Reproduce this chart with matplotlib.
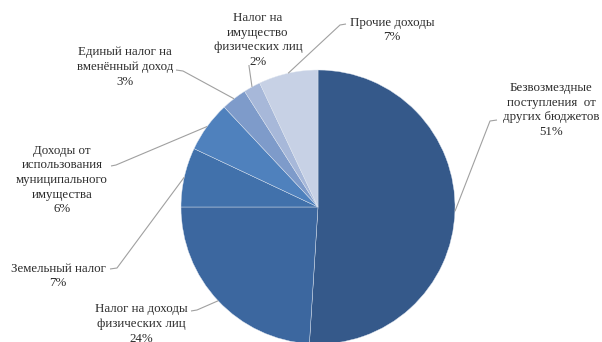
import numpy as np
import matplotlib
matplotlib.use('Agg')
import matplotlib.pyplot as plt

# ── data ──────────────────────────────────────────────────────────────────────

labels = [
    'Безвозмездные\nпоступления  от\nдругих бюджетов',
    'Налог на доходы\nфизических лиц',
    'Земельный налог',
    'Доходы от\nиспользования\nмуниципального\nимущества',
    'Единый налог на\nвменённый доход',
    'Налог на\nимущество\nфизических лиц',
    'Прочие доходы',
]
shares = [51, 24, 7, 6, 3, 2, 7]
colors = ['#35598a', '#3c679f', '#4171ab', '#4f81bd', '#7e9bca', '#a7b8d9', '#c7d1e5']

# label layout in pixel coords (y down): text centre, leader start, leader knee
text_pos = [(551, 110), (141, 324), (58, 276), (62, 180), (125, 67), (258, 40), (392, 30)]
lead_pts = [((497, 120), (490, 121)),
            ((191, 311), (197, 310)),
            ((110, 269), (117, 268)),
            ((111, 166), (116, 165)),
            ((176, 70), (183, 71)),
            ((249, 65), (249, 66)),
            ((346, 24), (340, 25))]

W, H = 602, 342
C_TEXT = '#2b2b2b'
C_LEAD = '#a0a0a0'


def py(y):
    return H - y


fig = plt.figure(figsize=(W / 100, H / 100), dpi=100)
ax = fig.add_axes([0, 0, 1, 1])

cx, cy, r = 318, py(207), 137
wedges, _ = ax.pie(shares, colors=colors, startangle=90, counterclock=False,
                   center=(cx, cy), radius=r,
                   wedgeprops=dict(edgecolor='#dfe6f0', linewidth=0.3))

for w, lab, val, (tx, ty), (p0, p1) in zip(wedges, labels, shares, text_pos, lead_pts):
    ang = np.deg2rad((w.theta1 + w.theta2) / 2)
    ex, ey = cx + r * np.cos(ang), cy + r * np.sin(ang)
    ax.plot([p0[0], p1[0], ex], [py(p0[1]), py(p1[1]), ey],
            color=C_LEAD, lw=0.8, solid_capstyle='butt', zorder=3)
    ax.text(tx, py(ty), f'{lab}\n{val}%', ha='center', va='center',
            fontsize=9.3, family='Liberation Serif', color=C_TEXT,
            linespacing=1.3)

ax.set_xlim(0, W)
ax.set_ylim(0, H)
ax.set_aspect('equal', adjustable='box')
ax.axis('off')

fig.savefig('out.png', dpi=100, facecolor='white')
